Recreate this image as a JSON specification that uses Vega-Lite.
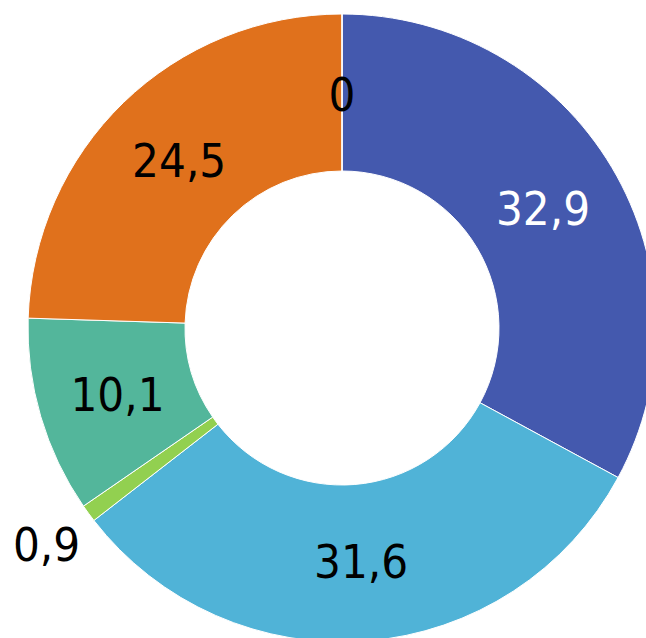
{
  "$schema": "https://vega.github.io/schema/vega-lite/v6.json",
  "width": 684,
  "height": 656,
  "autosize": "none",
  "padding": 0,
  "background": "white",
  "view": {"stroke": null},
  "data": {
    "values": [
      {"cat": "A", "value": 32.9, "label": "32,9", "ord": 1},
      {"cat": "B", "value": 31.6, "label": "31,6", "ord": 2},
      {"cat": "C", "value": 0.9, "label": "0,9", "ord": 3},
      {"cat": "D", "value": 10.1, "label": "10,1", "ord": 4},
      {"cat": "E", "value": 24.5, "label": "24,5", "ord": 5},
      {"cat": "F", "value": 0, "label": "0", "ord": 6}
    ]
  },
  "encoding": {
    "theta": {"field": "value", "type": "quantitative", "stack": true},
    "order": {"field": "ord", "type": "quantitative"}
  },
  "layer": [
    {
      "mark": {"type": "arc", "outerRadius": 314, "innerRadius": 157, "stroke": "white", "strokeWidth": 1},
      "encoding": {
        "color": {
          "field": "cat",
          "type": "nominal",
          "scale": {
            "domain": ["A", "B", "C", "D", "E", "F"],
            "range": ["#4459AE", "#50B3D7", "#92D050", "#53B69B", "#E0711C", "#E0711C"]
          },
          "legend": null
        }
      }
    },
    {
      "mark": {"type": "text", "radius": 234, "font": "'DejaVu Sans Condensed', 'Noto Sans', sans-serif", "fontSize": 47, "baseline": "middle", "align": "center", "dy": 3},
      "encoding": {
        "text": {"field": "label"},
        "opacity": {
          "condition": {"test": "datum.cat == 'C'", "value": 0},
          "value": 1
        },
        "color": {
          "condition": {"test": "datum.cat == 'A'", "value": "white"},
          "value": "black"
        }
      }
    },
    {
      "mark": {"type": "text", "radius": 366, "font": "'DejaVu Sans Condensed', 'Noto Sans', sans-serif", "fontSize": 47, "baseline": "middle", "align": "center", "color": "black", "dy": 3},
      "encoding": {
        "text": {"field": "label"},
        "opacity": {
          "condition": {"test": "datum.cat == 'C'", "value": 1},
          "value": 0
        }
      }
    }
  ]
}
